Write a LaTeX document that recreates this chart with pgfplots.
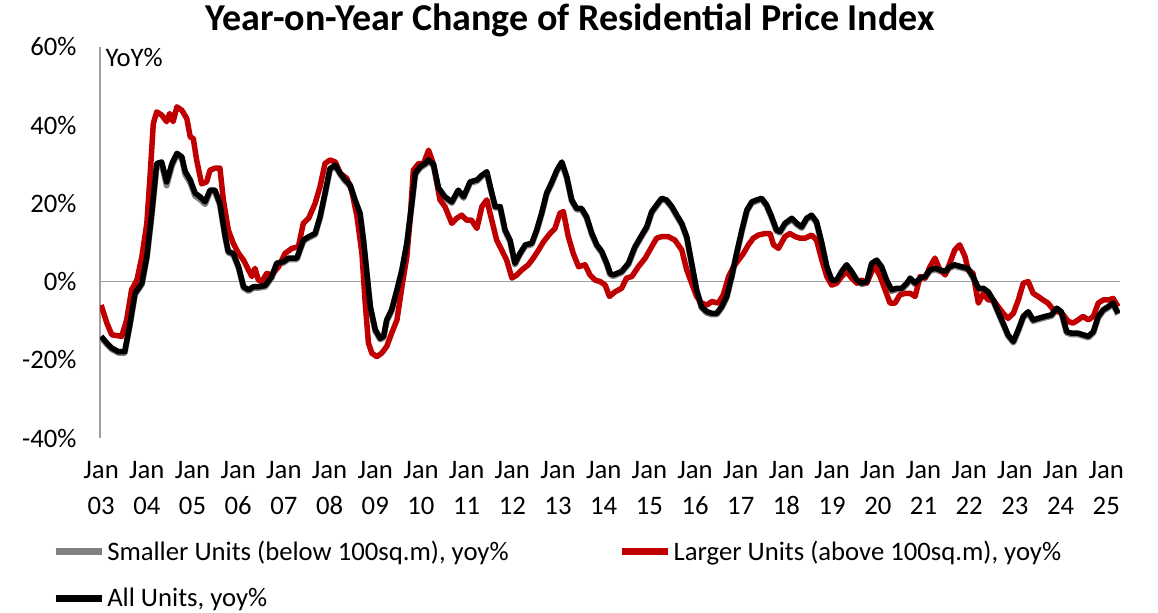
\documentclass[border=0pt]{standalone}
\usepackage{fontspec}
\setmainfont{Carlito}
\usepackage{pgfplots}
\usepackage{pgfplotstable}
\pgfplotsset{compat=1.18}
\definecolor{dred}{HTML}{C00000}
\definecolor{sgrey}{HTML}{808080}
\definecolor{zgrey}{HTML}{A0A0A0}
\newcommand{\lf}{\fontsize{26.7bp}{36bp}\selectfont}

\pgfplotstableread{
m all small
0 -14.0 -14.3
1.5 -15.7 -16.0
2.8 -17.0 -17.3
4.5 -17.9 -18.2
6.2 -17.9 -18.2
7.6 -10.6 -10.9
8.9 -3.0 -3.3
10.7 -0.4 -0.7
12 6.4 6.1
13.3 17.5 17.2
14.6 30.2 29.7
15.9 30.6 30.1
17.2 25.5 24.6
18.6 30.2 29.7
19.9 32.8 32.3
21.2 31.9 31.4
22.1 28.1 27.4
23.4 26.0 25.3
24.7 22.6 21.9
26 21.7 21.0
27.3 20.4 19.8
28.6 23.4 23.0
29.9 23.4 23.0
31.2 20.0 19.6
32.6 11.5 11.2
33.4 7.7 7.4
34.7 7.2 6.9
36.1 3.8 3.5
37.4 -1.3 -1.6
38.7 -2.1 -2.4
40 -1.3 -1.6
41.3 -1.3 -1.6
43.1 -1.0 -1.3
44.8 1.3 1.0
46.1 4.7 4.4
47.9 5.1 4.8
49.2 6.0 5.7
51.4 6.0 5.7
53.1 10.6 10.3
54.5 11.5 11.2
56.2 12.3 12.0
57.5 16.6 16.3
58.8 22.6 22.3
60.1 28.9 28.6
61.5 29.8 29.5
62.8 27.7 27.4
64.1 26.0 25.7
65.4 24.7 24.4
66.7 20.9 20.6
68 17.5 17.2
68.9 10.6 10.3
69.8 2.1 1.8
70.7 -6.4 -6.7
72 -12.3 -12.6
73.3 -14.5 -14.8
74.2 -14.0 -14.3
75 -9.8 -10.1
76.3 -7.2 -7.5
77.7 -2.1 -2.4
79 3.0 2.7
80.3 9.8 9.5
81.6 20.0 19.7
82.5 27.7 27.4
83.8 29.4 29.1
85.1 30.2 29.9
86 31.1 30.8
87.3 30.0 29.7
88.6 24.0 23.7
90.3 21.7 21.4
92.1 20.4 20.1
93.8 23.4 23.1
95.2 21.7 21.4
96.9 25.5 25.2
98.7 26.0 25.7
100 27.2 26.9
101.3 28.1 27.8
102.2 24.3 24.0
103.5 19.2 18.9
104.8 19.2 18.9
106.1 13.2 12.9
107.4 10.6 10.3
108.7 4.7 4.4
110 7.2 6.9
111.4 9.4 9.1
113.1 9.8 9.5
114.4 13.2 12.9
115.7 17.5 17.2
117 22.6 22.3
118.4 25.5 25.2
119.7 28.5 28.2
121 30.6 30.3
122.3 26.8 26.5
123.6 20.9 20.6
124.9 18.7 18.4
126.2 18.7 18.4
127.5 16.6 16.3
128.9 12.3 12.0
130.2 9.4 9.1
131.5 7.7 7.4
132.8 4.7 4.4
133.7 2.1 1.8
134.5 1.7 1.4
136.7 2.6 2.3
138.5 4.7 4.4
140.2 8.9 8.6
142 11.9 11.6
143.3 14.0 13.7
144.6 17.9 17.6
145.9 19.6 19.3
147.2 21.3 21.0
148.5 20.9 20.6
149.9 19.2 18.9
151.2 17.0 16.7
152.5 14.9 14.6
153.8 11.5 11.2
155.1 4.7 4.4
156.4 -2.1 -2.4
157.7 -6.4 -6.7
159.1 -7.7 -8.0
160.4 -8.1 -8.4
161.7 -8.1 -8.4
163 -6.4 -6.7
164.3 -3.8 -4.1
165.6 1.3 1.0
166.9 7.2 6.9
168.3 13.2 12.9
169.6 18.3 18.0
170.9 20.4 20.1
172.2 20.9 20.6
173.5 21.3 21.0
174.8 19.6 19.3
176.1 16.6 16.3
177.4 13.2 12.9
178.3 12.8 12.5
179.6 14.9 14.6
181.4 16.2 15.9
182.7 14.9 14.6
184 14.0 13.7
185.3 16.2 15.9
186.6 17.0 16.7
187.9 15.3 15.0
189.3 9.8 9.5
190.6 3.8 3.5
191.9 0.4 0.1
193.2 0.4 0.1
194.5 2.6 2.3
195.8 4.3 4.0
197.1 2.6 2.3
198.5 0.4 0.1
199.8 -0.4 -0.7
201.1 0.0 -0.3
202.4 4.7 4.4
203.7 5.5 5.2
205 3.8 3.5
206.3 0.4 0.1
207.6 -2.1 -2.4
209 -1.7 -2.0
210.3 -1.7 -2.0
211.6 -0.4 -0.7
212.5 0.9 0.6
213.8 -0.4 -0.7
215.1 0.9 0.6
216.4 1.3 1.0
217.7 3.0 2.7
219 3.4 3.1
220.3 3.0 2.7
221.7 2.6 2.3
222.9 3.8 3.5
224.2 4.3 4.0
226 3.8 3.5
227.7 3.4 3.1
229 1.3 1.0
230.4 -1.7 -2.0
231.7 -1.7 -2.0
233 -2.6 -2.9
234.3 -4.7 -5.0
235.6 -7.7 -8.0
236.9 -10.6 -10.9
238.2 -13.6 -13.9
239.6 -15.3 -15.6
240.9 -12.3 -12.6
242.2 -8.9 -9.2
243.5 -7.7 -8.0
244.8 -9.8 -10.1
246.1 -9.4 -9.7
247.9 -8.9 -9.2
249.6 -8.5 -8.8
251 -6.8 -7.1
252.2 -7.7 -8.0
253.6 -12.8 -13.1
254.9 -13.2 -13.5
256.6 -13.2 -13.5
257.9 -13.6 -13.9
259.3 -14.0 -14.3
260.6 -12.8 -13.1
261.9 -8.9 -9.2
263.2 -7.2 -7.5
264.5 -6.4 -6.7
265.8 -5.5 -5.8
267.1 -8.1 -8.4
}\allunits

\pgfplotstableread{
m v
0 -6.0
1.5 -10.6
2.8 -13.6
5.4 -14.0
6.7 -9.8
8 -2.1
9.4 0.4
10.7 6.4
12 14.9
12.9 27.7
13.7 40.4
14.6 43.4
15.9 42.6
17.2 40.9
18 43.0
18.9 40.9
19.9 44.7
21.2 43.8
22.5 41.7
23.4 37.0
24.2 36.6
25.1 31.0
26.4 25.0
27.7 25.5
28.6 28.5
29.9 29.0
31.2 29.0
32.1 20.9
33.4 13.2
34.7 9.8
36.1 7.2
37.4 5.5
38.7 3.0
39.6 1.3
40.4 3.4
41.3 0.4
42.2 0.0
43.5 2.1
44.8 1.7
46.6 3.8
48.3 7.2
50.1 8.5
51.8 8.9
53.1 14.9
54.5 16.2
56.2 20.0
57.5 24.3
58.8 30.2
60.1 31.1
61.5 30.6
62.8 27.7
64.5 26.4
65.8 23.4
67.2 16.6
68.5 7.2
69.3 -4.7
70.2 -15.7
71.1 -18.3
72.4 -19.2
73.7 -18.3
75 -16.6
76.3 -13.2
77.7 -9.8
79 -1.3
80.3 6.4
81.2 16.6
82 28.5
83.4 30.2
84.7 30.2
86 33.6
87.3 30.0
89 20.9
90.3 19.2
92.1 14.9
93.4 16.2
94.7 17.0
96 15.7
97.3 15.7
98.7 13.6
100 19.2
101.3 20.9
102.6 15.7
103.9 10.6
105.2 8.1
106.5 5.5
107.9 0.9
109.2 1.7
110.5 3.0
112.2 4.3
113.5 6.0
114.9 8.1
116.2 10.2
117.9 12.3
119.2 13.6
120.5 17.5
121.4 17.9
122.7 11.5
124 7.2
125.4 3.8
127.1 4.3
128.4 1.7
129.7 0.4
131.1 0.0
132.4 -0.9
133.5 -3.8
135 -2.6
136.7 -1.7
138 0.9
139.4 1.3
141.1 3.8
142.9 6.0
144.6 8.9
145.9 11.1
147.2 11.5
149 11.5
150.7 10.6
152.5 8.1
153.8 3.0
155.1 -0.4
156.4 -3.8
157.7 -5.5
159.1 -6.0
160.4 -5.1
162.1 -5.5
163.4 -3.4
164.8 1.3
166.1 3.8
167.4 5.5
168.7 7.2
170 9.4
171.3 11.1
172.6 11.9
174.4 12.3
175.7 12.3
176.6 9.4
177.9 8.5
179.6 11.5
180.9 12.3
182.3 11.5
183.6 11.1
184.9 11.1
186.6 11.9
187.9 10.6
189.3 5.5
190.6 1.3
191.9 -0.9
193.2 -0.4
194.5 1.3
195.8 2.6
197.1 0.9
198.5 -0.4
199.8 0.4
201.1 -0.4
202.4 2.6
203.3 3.8
204.6 1.3
205.9 -2.1
207.2 -5.5
208.5 -5.5
209.8 -3.4
211.2 -3.0
212.5 -3.0
213.8 -3.8
215.1 1.3
216.4 0.9
217.7 3.8
219 6.0
220.3 3.0
221.7 1.7
222.9 4.7
224.2 8.1
225.5 9.4
226.9 6.4
227.7 3.0
229 2.1
230.4 -5.5
231.7 -3.0
233 -4.7
234.3 -4.7
235.6 -6.4
236.9 -8.1
238.2 -9.4
239.6 -8.1
240.9 -4.7
242.2 -0.4
243.5 0.0
244.8 -3.0
246.1 -3.8
247.4 -4.7
248.7 -5.5
250.1 -7.2
251.4 -7.7
252.7 -8.5
254 -10.2
255.3 -10.6
256.6 -9.8
257.9 -8.9
259.3 -9.8
260.6 -8.9
261.9 -5.5
263.2 -4.7
264.5 -4.7
265.8 -4.3
267.1 -6.4
}\largerunits

\begin{document}
\begin{tikzpicture}
\path[use as bounding box] (0,0) rectangle (1158bp,-613bp);
\begin{axis}[
  at={(100bp,-438bp)}, anchor=south west,
  scale only axis, width=1020bp, height=391bp,
  xmin=-0.3, xmax=267.6, ymin=-40, ymax=60,
  axis lines*=left,
  x axis line style={draw=none},
  y axis line style={draw=zgrey, line width=1.2bp},
  major tick length=0pt,
  ytick={-40,-20,0,20,40,60},
  yticklabels={-40\%,-20\%,0\%,20\%,40\%,60\%},
  yticklabel style={font=\lf, xshift=-20bp},
  xtick={0,12,...,264},
  xticklabels={{Jan\\03},{Jan\\04},{Jan\\05},{Jan\\06},{Jan\\07},{Jan\\08},{Jan\\09},{Jan\\10},{Jan\\11},{Jan\\12},{Jan\\13},{Jan\\14},{Jan\\15},{Jan\\16},{Jan\\17},{Jan\\18},{Jan\\19},{Jan\\20},{Jan\\21},{Jan\\22},{Jan\\23},{Jan\\24},{Jan\\25}},
  xticklabel style={font=\lf, align=center, yshift=-20bp},
  ylabel={YoY\%},
  ylabel style={font=\lf, rotate=-90, at={(rel axis cs:0,1)}, anchor=north west, xshift=2bp, yshift=2bp},
  title={Year-on-Year Change of Residential Price Index},
  title style={font=\fontsize{38bp}{42bp}\selectfont\bfseries, at={(0.461,1)}, anchor=center, yshift=21bp},
  legend columns=2,
  legend cell align=left,
  legend style={draw=none, fill=none, font=\lf, inner sep=0pt,
    at={(axis description cs:-0.047,-0.258)}, anchor=north west,
    /tikz/every even column/.append style={column sep=108bp},
    row sep=22bp},
  legend image code/.code={\draw[#1, line width=7bp] (0bp,0bp) -- (46bp,0bp);},
]
\addplot[zgrey, line width=1.5bp, forget plot] coordinates {(-0.3,0) (267.6,0)};
\addplot[sgrey, line width=6bp, line join=round] table[x=m, y=small] {\allunits};
\addlegendentry{Smaller Units (below 100sq.m), yoy\%}
\addplot[dred, line width=5.5bp, line join=round] table[x=m, y=v] {\largerunits};
\addlegendentry{Larger Units (above 100sq.m), yoy\%}
\addplot[black, line width=5.5bp, line join=round] table[x=m, y=all] {\allunits};
\addlegendentry{All Units, yoy\%}
\end{axis}
\end{tikzpicture}
\end{document}
